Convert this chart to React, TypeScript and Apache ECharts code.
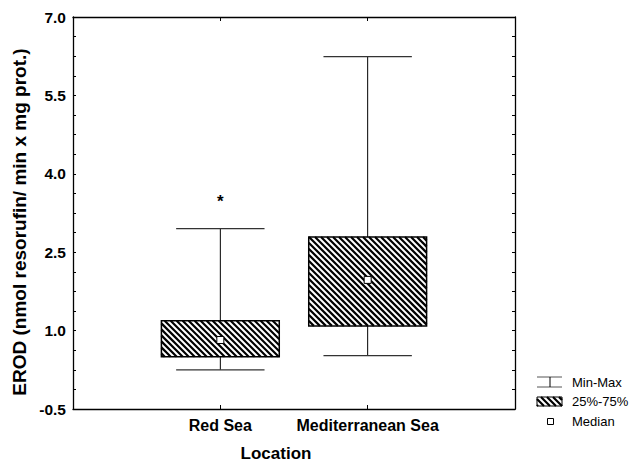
import React, { useEffect, useRef } from 'react';
import * as echarts from 'echarts';

// Box-plot summary per sampling location
const LOCATIONS = ['Red Sea', 'Mediterranean Sea'];
const MIN_VALUES = [0.25, 0.52];
const Q1_VALUES = [0.5, 1.09];
const MEDIAN_VALUES = [0.82, 1.97];
const Q3_VALUES = [1.19, 2.79];
const MAX_VALUES = [2.95, 6.24];

// Extreme values plotted as asterisks
const OUTLIER_LOCATIONS = ['Red Sea'];
const OUTLIER_VALUES = [3.55];

// Y axis labels and tick marks
const Y_LABELS = [-0.5, 1.0, 2.5, 4.0, 5.5, 7.0];
const Y_TICKS = [
  -0.5, -0.125, 0.25, 0.625, 1.0, 1.375, 1.75, 2.125, 2.5, 2.875, 3.25,
  3.625, 4.0, 4.375, 4.75, 5.125, 5.5, 5.875, 6.25, 6.625, 7.0,
];

const LEGEND_ITEMS = ['Min-Max', '25%-75%', 'Median'];
const Y_NAME = 'EROD (nmol resorufin/ min x mg prot.)';
const X_NAME = 'Location';

const FONT = '"Liberation Sans", Arial, Helvetica, sans-serif';

// Category slots: an empty slot on each side so the boxes sit at 1/3 and 2/3
const AXIS_CATEGORIES = ['', ...LOCATIONS, ''];

// Diagonal "\\\\" hatching clipped to a rectangle
function hatchLines(x0: number, y0: number, x1: number, y1: number, step: number, lineWidth: number) {
  const lines: any[] = [];
  const cStart = Math.ceil((x0 - y1) / step) * step;
  for (let c = cStart; c <= x1 - y0; c += step) {
    const ya = Math.max(y0, x0 - c);
    const yb = Math.min(y1, x1 - c);
    if (yb - ya < 0.6) continue;
    lines.push({
      type: 'line',
      silent: true,
      shape: { x1: ya + c, y1: ya, x2: yb + c, y2: yb },
      style: { stroke: '#000', lineWidth },
    });
  }
  return lines;
}

export default function App() {
  const ref = useRef<HTMLDivElement>(null);

  useEffect(() => {
    document.body.style.margin = '0';
    if (!ref.current) return;
    const chart = echarts.init(ref.current, undefined, { renderer: 'svg' });

    const boxData = LOCATIONS.map((_, i) => [
      i + 1,
      MIN_VALUES[i],
      Q1_VALUES[i],
      MEDIAN_VALUES[i],
      Q3_VALUES[i],
      MAX_VALUES[i],
    ]);
    const outlierData = OUTLIER_LOCATIONS.map((loc, i) => [
      LOCATIONS.indexOf(loc) + 1,
      OUTLIER_VALUES[i],
    ]);

    const axisLine = { show: true, onZero: false, lineStyle: { color: '#000', width: 1.3 } };
    const tickStyle = { color: '#000', width: 1 };

    const legendX = 537;
    const legendRows = [382, 401.5, 421.5];

    chart.setOption({
      animation: false,
      backgroundColor: '#fff',
      grid: { left: 73, right: 116, top: 17, bottom: 52 },
      xAxis: [
        {
          type: 'category',
          data: AXIS_CATEGORIES,
          boundaryGap: false,
          position: 'bottom',
          axisLine,
          axisTick: {
            show: true,
            inside: true,
            length: 4,
            interval: (i: number) => i > 0 && i < AXIS_CATEGORIES.length - 1,
            lineStyle: tickStyle,
          },
          axisLabel: {
            interval: 0,
            color: '#000',
            fontFamily: FONT,
            fontWeight: 'bold',
            fontSize: 16,
            margin: 8,
          },
          splitLine: { show: false },
        },
        {
          type: 'category',
          data: AXIS_CATEGORIES,
          boundaryGap: false,
          position: 'top',
          axisLine,
          axisTick: {
            show: true,
            inside: true,
            length: 4,
            interval: (i: number) => i > 0 && i < AXIS_CATEGORIES.length - 1,
            lineStyle: tickStyle,
          },
          axisLabel: { show: false },
          splitLine: { show: false },
        },
      ],
      yAxis: [
        {
          type: 'value',
          min: -0.5,
          max: 7,
          position: 'left',
          axisLine,
          axisTick: { show: true, inside: true, length: 3, customValues: Y_TICKS, lineStyle: tickStyle },
          axisLabel: {
            customValues: Y_LABELS,
            formatter: (v: number) => v.toFixed(1),
            color: '#000',
            fontFamily: FONT,
            fontWeight: 'bold',
            fontSize: 15.5,
            margin: 7,
          },
          splitLine: { show: false },
        },
        {
          type: 'value',
          min: -0.5,
          max: 7,
          position: 'right',
          axisLine,
          axisTick: { show: true, inside: true, length: 3, customValues: Y_TICKS, lineStyle: tickStyle },
          axisLabel: { show: false },
          splitLine: { show: false },
        },
      ],
      series: [
        {
          type: 'custom',
          name: 'box',
          xAxisIndex: 0,
          yAxisIndex: 0,
          encode: { x: 0, y: [1, 2, 3, 4, 5] },
          data: boxData,
          renderItem: (params: any, api: any) => {
            const xi = api.value(0);
            const band = api.size([1, 0])[0];
            const pMin = api.coord([xi, api.value(1)]);
            const pQ1 = api.coord([xi, api.value(2)]);
            const pMed = api.coord([xi, api.value(3)]);
            const pQ3 = api.coord([xi, api.value(4)]);
            const pMax = api.coord([xi, api.value(5)]);
            const cx = pMin[0];
            const bw = band * 0.8;
            const cw = band * 0.6;
            const bx0 = cx - bw / 2;
            const bx1 = cx + bw / 2;
            const by0 = pQ3[1];
            const by1 = pQ1[1];
            const whisker = { stroke: '#000', lineWidth: 1 };
            const cap = { stroke: '#333', lineWidth: 1.2 };
            return {
              type: 'group',
              children: [
                { type: 'line', shape: { x1: cx, y1: pMax[1], x2: cx, y2: by0 }, style: whisker },
                { type: 'line', shape: { x1: cx, y1: by1, x2: cx, y2: pMin[1] }, style: whisker },
                { type: 'line', shape: { x1: cx - cw / 2, y1: pMax[1], x2: cx + cw / 2, y2: pMax[1] }, style: cap },
                { type: 'line', shape: { x1: cx - cw / 2, y1: pMin[1], x2: cx + cw / 2, y2: pMin[1] }, style: cap },
                { type: 'rect', shape: { x: bx0, y: by0, width: bw, height: by1 - by0 }, style: { fill: '#fff' } },
                ...hatchLines(bx0, by0, bx1, by1, 6, 2.2),
                {
                  type: 'rect',
                  shape: { x: bx0, y: by0, width: bw, height: by1 - by0 },
                  style: { fill: 'none', stroke: '#000', lineWidth: 1.5 },
                },
                {
                  type: 'rect',
                  shape: { x: cx - 3.5, y: pMed[1] - 3.5, width: 7, height: 7 },
                  style: { fill: '#fff', stroke: '#000', lineWidth: 1 },
                },
              ],
            };
          },
          z: 2,
        },
        {
          type: 'custom',
          name: 'outliers',
          xAxisIndex: 0,
          yAxisIndex: 0,
          encode: { x: 0, y: 1 },
          data: outlierData,
          renderItem: (params: any, api: any) => {
            const p = api.coord([api.value(0), api.value(1)]);
            return {
              type: 'text',
              x: p[0],
              y: p[1] + 4,
              style: {
                text: '*',
                font: `bold 17px ${FONT}`,
                fill: '#000',
                textAlign: 'center',
                textVerticalAlign: 'middle',
              },
            };
          },
          z: 3,
        },
      ],
      graphic: [
        {
          type: 'text',
          x: 19,
          y: 222,
          rotation: Math.PI / 2,
          style: {
            text: Y_NAME,
            font: `bold 19px ${FONT}`,
            fill: '#000',
            textAlign: 'center',
            textVerticalAlign: 'middle',
          },
        },
        {
          type: 'text',
          x: 276,
          y: 453,
          style: {
            text: X_NAME,
            font: `bold 17px ${FONT}`,
            fill: '#000',
            textAlign: 'center',
            textVerticalAlign: 'middle',
          },
        },
        // Legend: min-max whisker symbol
        {
          type: 'group',
          children: [
            { type: 'line', shape: { x1: legendX, y1: legendRows[0] - 5, x2: legendX + 25, y2: legendRows[0] - 5 }, style: { stroke: '#555', lineWidth: 1 } },
            { type: 'line', shape: { x1: legendX, y1: legendRows[0] + 5, x2: legendX + 25, y2: legendRows[0] + 5 }, style: { stroke: '#555', lineWidth: 1 } },
            { type: 'line', shape: { x1: legendX + 13, y1: legendRows[0] - 5, x2: legendX + 13, y2: legendRows[0] + 5 }, style: { stroke: '#000', lineWidth: 1 } },
          ],
        },
        // Legend: hatched box symbol
        {
          type: 'group',
          children: [
            ...hatchLines(legendX, legendRows[1] - 4.5, legendX + 25, legendRows[1] + 4.5, 6, 2.2),
            {
              type: 'rect',
              shape: { x: legendX, y: legendRows[1] - 4.5, width: 25, height: 9 },
              style: { fill: 'none', stroke: '#000', lineWidth: 1 },
            },
          ],
        },
        // Legend: median marker
        {
          type: 'rect',
          shape: { x: legendX + 10.5, y: legendRows[2] - 3, width: 6, height: 6 },
          style: { fill: '#fff', stroke: '#000', lineWidth: 1 },
        },
        ...LEGEND_ITEMS.map((label, i) => ({
          type: 'text',
          x: 572,
          y: legendRows[i],
          style: {
            text: label,
            font: `13px ${FONT}`,
            fill: '#000',
            textAlign: 'left',
            textVerticalAlign: 'middle',
          },
        })),
      ],
    });

    return () => chart.dispose();
  }, []);

  return <div ref={ref} style={{ width: 631, height: 461 }} />;
}
